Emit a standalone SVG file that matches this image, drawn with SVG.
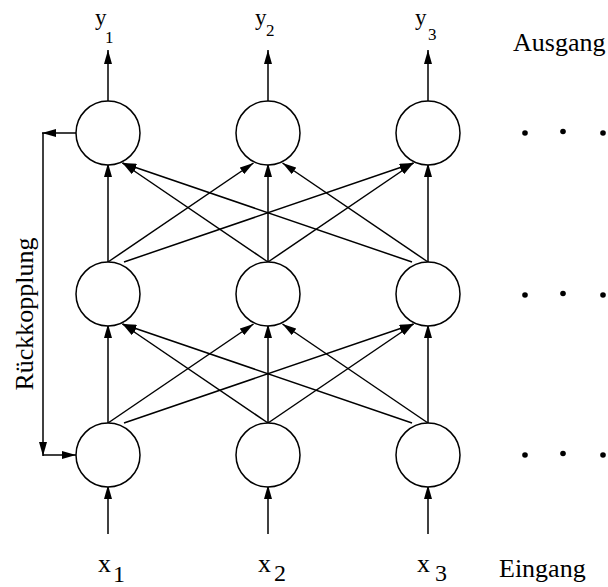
<svg xmlns="http://www.w3.org/2000/svg" width="608" height="587" viewBox="0 0 608 587">
<style>
.n{fill:#fff;stroke:#000;stroke-width:1.5}
.c line{stroke:#000;stroke-width:1.5;marker-end:url(#a)}
text{font-family:"Liberation Serif","Times New Roman",serif;fill:#000}
.d{fill:#000}
</style>
<defs>
<marker id="a" markerWidth="14" markerHeight="8" refX="14" refY="4" orient="auto" markerUnits="userSpaceOnUse"><path d="M0,0L14,4L0,8z" fill="#000"/></marker>
</defs>
<g id="connectors" class="c">
<line x1="108" y1="101" x2="108" y2="50"/>
<line x1="268" y1="101" x2="268" y2="50"/>
<line x1="428" y1="101" x2="428" y2="50"/>
<line x1="108" y1="534" x2="108" y2="485"/>
<line x1="268" y1="534" x2="268" y2="485"/>
<line x1="428" y1="534" x2="428" y2="485"/>
<line x1="108" y1="262" x2="108" y2="163"/>
<line x1="268" y1="262" x2="268" y2="163"/>
<line x1="428" y1="262" x2="428" y2="163"/>
<line x1="108" y1="262" x2="253.5" y2="163"/>
<line x1="268" y1="262" x2="122.5" y2="163"/>
<line x1="268" y1="262" x2="413.5" y2="163"/>
<line x1="428" y1="262" x2="282.5" y2="163"/>
<line x1="124" y1="262" x2="413.5" y2="163"/>
<line x1="412" y1="262" x2="122.5" y2="163"/>
<line x1="108" y1="423" x2="108" y2="324"/>
<line x1="268" y1="423" x2="268" y2="324"/>
<line x1="428" y1="423" x2="428" y2="324"/>
<line x1="108" y1="423" x2="253.5" y2="324"/>
<line x1="268" y1="423" x2="122.5" y2="324"/>
<line x1="268" y1="423" x2="413.5" y2="324"/>
<line x1="428" y1="423" x2="282.5" y2="324"/>
<line x1="124" y1="423" x2="413.5" y2="324"/>
<line x1="412" y1="423" x2="122.5" y2="324"/>
<line x1="76" y1="133" x2="42" y2="133"/>
<line x1="43" y1="133" x2="43" y2="456"/>
<line x1="43" y1="455" x2="76" y2="455"/>
</g>
<g id="n11"><circle class="n" cx="108" cy="133" r="32"/></g>
<g id="n12"><circle class="n" cx="268" cy="133" r="32"/></g>
<g id="n13"><circle class="n" cx="428" cy="133" r="32"/></g>
<g id="n21"><circle class="n" cx="108" cy="294" r="32"/></g>
<g id="n22"><circle class="n" cx="268" cy="294" r="32"/></g>
<g id="n23"><circle class="n" cx="428" cy="294" r="32"/></g>
<g id="n31"><circle class="n" cx="108" cy="455" r="32"/></g>
<g id="n32"><circle class="n" cx="268" cy="455" r="32"/></g>
<g id="n33"><circle class="n" cx="428" cy="455" r="32"/></g>
<g id="dots">
<circle class="d" cx="525" cy="133" r="2.8"/><circle class="d" cx="563" cy="131.5" r="2.8"/><circle class="d" cx="603" cy="133" r="2.8"/>
<circle class="d" cx="525" cy="295" r="2.8"/><circle class="d" cx="563" cy="293.5" r="2.8"/><circle class="d" cx="603" cy="295" r="2.8"/>
<circle class="d" cx="525" cy="455" r="2.8"/><circle class="d" cx="563" cy="453.5" r="2.8"/><circle class="d" cx="603" cy="455" r="2.8"/>
</g>
<g id="labels">
<text x="95" y="25" font-size="23">y</text><text x="105" y="43" font-size="17">1</text>
<text x="255" y="25" font-size="23">y</text><text x="266" y="36" font-size="17">2</text>
<text x="415" y="25" font-size="23">y</text><text x="428" y="40" font-size="17">3</text>
<text x="98" y="572" font-size="26">x</text><text x="113" y="582" font-size="24">1</text>
<text x="258" y="572" font-size="26">x</text><text x="274" y="581" font-size="24">2</text>
<text x="417" y="572" font-size="26">x</text><text x="435" y="581" font-size="24">3</text>
<text x="513" y="51" font-size="26">Ausgang</text>
<text x="499" y="577" font-size="26">Eingang</text>
<text transform="translate(33,314) rotate(-90)" text-anchor="middle" font-size="26">Rückkopplung</text>
</g>
</svg>
